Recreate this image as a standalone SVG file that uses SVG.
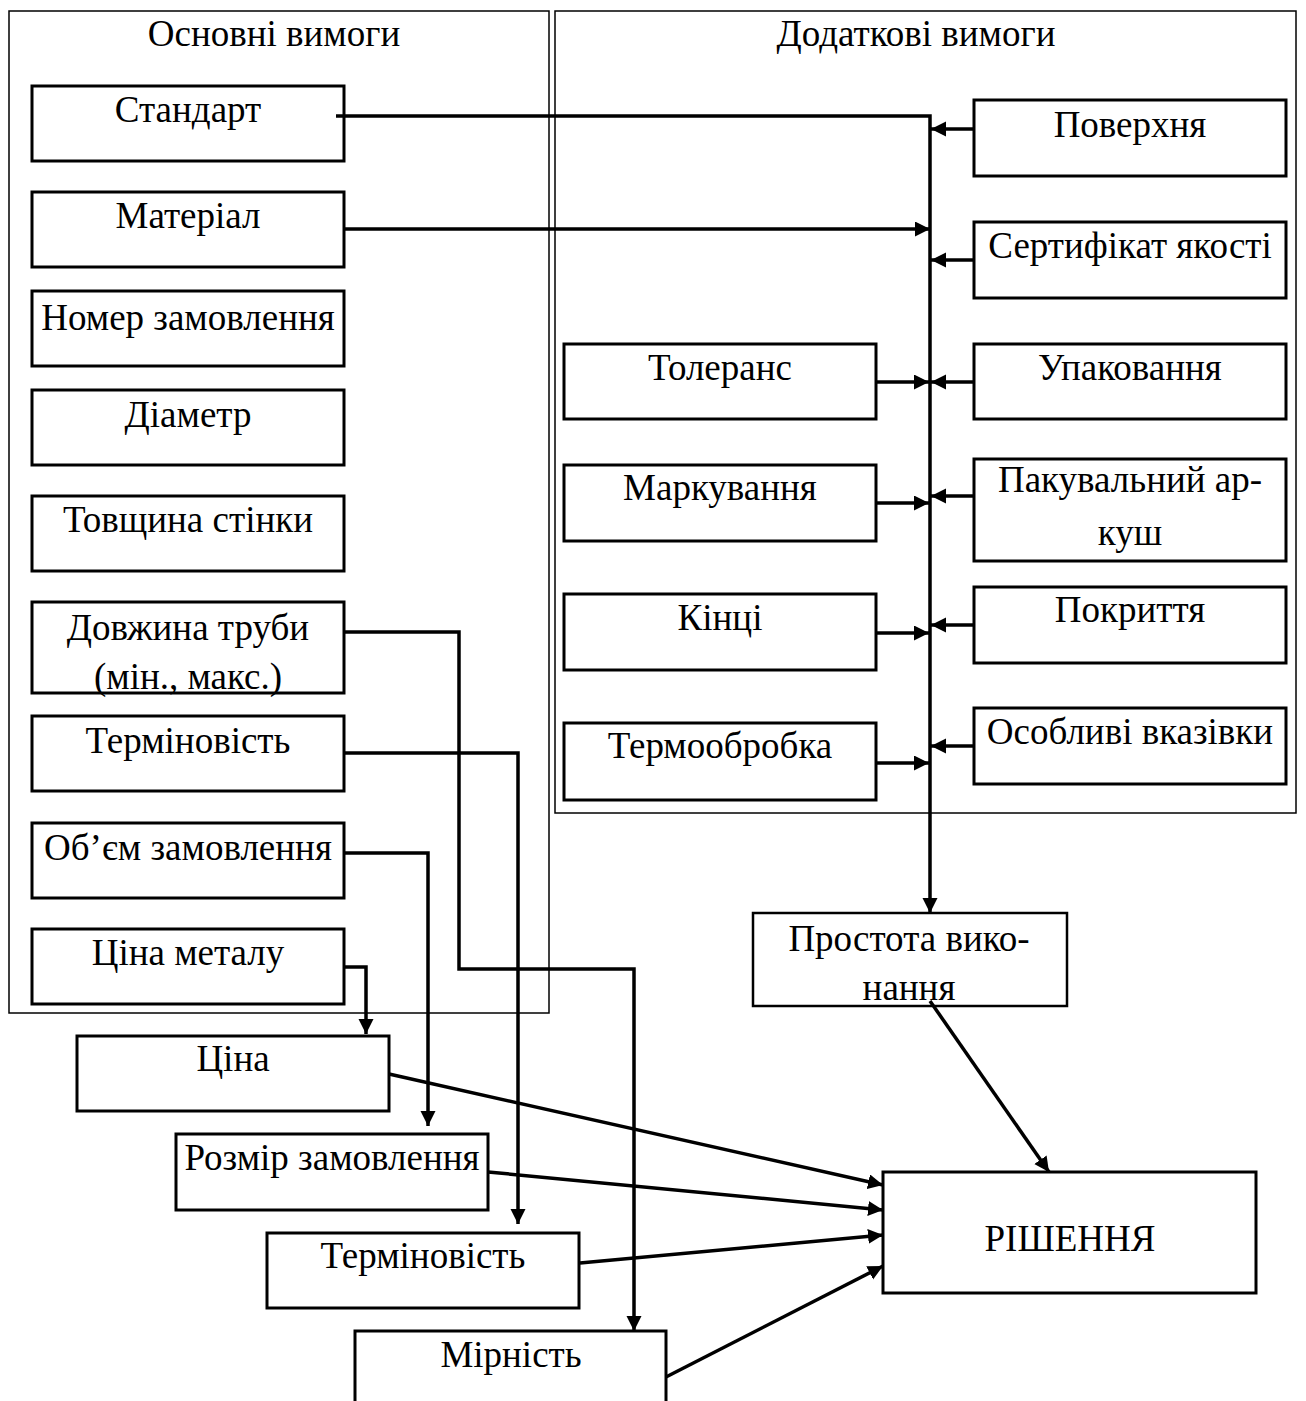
<svg xmlns="http://www.w3.org/2000/svg" width="1306" height="1401" viewBox="0 0 1306 1401">
<style>
.frame{fill:none;stroke:#000;stroke-width:1.5}
.box{fill:#fff;stroke:#000;stroke-width:3}
.t{font-family:"Liberation Serif","Times New Roman",serif;font-size:37px;fill:#000;text-anchor:middle}
.c{fill:none;stroke:#000;stroke-width:3.5}
</style>
<defs>
<marker id="ah" markerUnits="userSpaceOnUse" markerWidth="16" markerHeight="16" refX="15" refY="7.5" orient="auto">
<path d="M0,0 L15,7.5 L0,15 Z" fill="#000"/>
</marker>
</defs>
<rect width="1306" height="1401" fill="#fff"/>
<g id="frame-main"><rect class="frame" x="9" y="11" width="540" height="1002"/><text class="t" x="274" y="46">Основні вимоги</text></g>
<g id="frame-extra"><rect class="frame" x="555" y="11" width="741" height="802"/><text class="t" x="916" y="46">Додаткові вимоги</text></g>
<g id="n-standart"><rect class="box" x="32" y="86" width="312" height="75"/><text class="t" x="188" y="122">Стандарт</text></g>
<g id="n-material"><rect class="box" x="32" y="192" width="312" height="75"/><text class="t" x="188" y="228">Матеріал</text></g>
<g id="n-nomer"><rect class="box" x="32" y="291" width="312" height="75"/><text class="t" x="188" y="330">Номер замовлення</text></g>
<g id="n-diametr"><rect class="box" x="32" y="390" width="312" height="75"/><text class="t" x="188" y="427">Діаметр</text></g>
<g id="n-tovshchyna"><rect class="box" x="32" y="496" width="312" height="75"/><text class="t" x="188" y="532">Товщина стінки</text></g>
<g id="n-dovzhyna"><rect class="box" x="32" y="602" width="312" height="91"/><text class="t" x="188" y="640">Довжина труби</text><text class="t" x="188" y="689">(мін., макс.)</text></g>
<g id="n-terminovist1"><rect class="box" x="32" y="716" width="312" height="75"/><text class="t" x="188" y="753">Терміновість</text></g>
<g id="n-obiem"><rect class="box" x="32" y="823" width="312" height="75"/><text class="t" x="188" y="860">Об’єм замовлення</text></g>
<g id="n-tsina-metalu"><rect class="box" x="32" y="929" width="312" height="75"/><text class="t" x="188" y="965">Ціна металу</text></g>
<g id="n-poverkhnia"><rect class="box" x="974" y="100" width="312" height="76"/><text class="t" x="1130" y="137">Поверхня</text></g>
<g id="n-sertyfikat"><rect class="box" x="974" y="222" width="312" height="76"/><text class="t" x="1130" y="258">Сертифікат якості</text></g>
<g id="n-upakovannia"><rect class="box" x="974" y="344" width="312" height="75"/><text class="t" x="1130" y="380">Упаковання</text></g>
<g id="n-pakuvalnyi"><rect class="box" x="974" y="459" width="312" height="102"/><text class="t" x="1130" y="492">Пакувальний ар-</text><text class="t" x="1130" y="545">куш</text></g>
<g id="n-pokryttia"><rect class="box" x="974" y="587" width="312" height="76"/><text class="t" x="1130" y="622">Покриття</text></g>
<g id="n-osoblyvi"><rect class="box" x="974" y="708" width="312" height="76"/><text class="t" x="1130" y="744">Особливі вказівки</text></g>
<g id="n-tolerans"><rect class="box" x="564" y="344" width="312" height="75"/><text class="t" x="720" y="380">Толеранс</text></g>
<g id="n-markuvannia"><rect class="box" x="564" y="465" width="312" height="76"/><text class="t" x="720" y="500">Маркування</text></g>
<g id="n-kintsi"><rect class="box" x="564" y="594" width="312" height="76"/><text class="t" x="720" y="630">Кінці</text></g>
<g id="n-termoobrobka"><rect class="box" x="564" y="723" width="312" height="77"/><text class="t" x="720" y="758">Термообробка</text></g>
<g id="n-prostota"><rect class="box" x="753" y="913" width="314" height="93" style="stroke-width:2.5"/><text class="t" x="909" y="951">Простота вико-</text><text class="t" x="909" y="1000">нання</text></g>
<g id="n-tsina"><rect class="box" x="77" y="1036" width="312" height="75"/><text class="t" x="233" y="1071">Ціна</text></g>
<g id="n-rozmir"><rect class="box" x="176" y="1134" width="312" height="76"/><text class="t" x="332" y="1170">Розмір замовлення</text></g>
<g id="n-terminovist2"><rect class="box" x="267" y="1233" width="312" height="75"/><text class="t" x="423" y="1268">Терміновість</text></g>
<g id="n-mirnist"><rect class="box" x="355" y="1331" width="311" height="80"/><text class="t" x="511" y="1367">Мірність</text></g>
<g id="n-rishennia"><rect class="box" x="883" y="1172" width="373" height="121"/><text class="t" x="1070" y="1251">РІШЕННЯ</text></g>
<g id="connectors">
<polyline class="c" points="336,116 930,116 930,913" marker-end="url(#ah)"/>
<line class="c" x1="344" y1="229" x2="930" y2="229" marker-end="url(#ah)"/>
<line class="c" x1="974" y1="129" x2="931" y2="129" marker-end="url(#ah)"/>
<line class="c" x1="974" y1="260" x2="931" y2="260" marker-end="url(#ah)"/>
<line class="c" x1="974" y1="382" x2="931" y2="382" marker-end="url(#ah)"/>
<line class="c" x1="974" y1="496" x2="931" y2="496" marker-end="url(#ah)"/>
<line class="c" x1="974" y1="625" x2="931" y2="625" marker-end="url(#ah)"/>
<line class="c" x1="974" y1="746" x2="931" y2="746" marker-end="url(#ah)"/>
<line class="c" x1="876" y1="382" x2="929" y2="382" marker-end="url(#ah)"/>
<line class="c" x1="876" y1="503" x2="929" y2="503" marker-end="url(#ah)"/>
<line class="c" x1="876" y1="633" x2="929" y2="633" marker-end="url(#ah)"/>
<line class="c" x1="876" y1="763" x2="929" y2="763" marker-end="url(#ah)"/>
<polyline class="c" points="344,632 459,632 459,969 634,969 634,1331" marker-end="url(#ah)"/>
<polyline class="c" points="344,753 518,753 518,1224" marker-end="url(#ah)"/>
<polyline class="c" points="344,853 428,853 428,1126" marker-end="url(#ah)"/>
<polyline class="c" points="344,967 366,967 366,1034" marker-end="url(#ah)"/>
<line class="c" x1="930" y1="1001" x2="1049" y2="1172" marker-end="url(#ah)"/>
<line class="c" x1="389" y1="1074" x2="883" y2="1185" marker-end="url(#ah)"/>
<line class="c" x1="488" y1="1172" x2="883" y2="1210" marker-end="url(#ah)"/>
<line class="c" x1="580" y1="1263" x2="883" y2="1235" marker-end="url(#ah)"/>
<line class="c" x1="666" y1="1377" x2="883" y2="1266" marker-end="url(#ah)"/>
</g>
</svg>
